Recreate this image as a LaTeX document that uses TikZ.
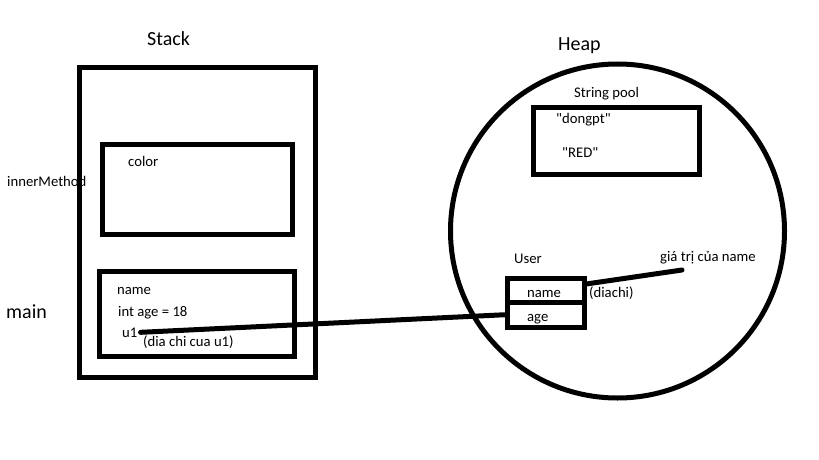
\documentclass[tikz,border=0pt]{standalone}
\usepackage{fontspec}
\setmainfont{Carlito}
\usetikzlibrary{positioning,calc}

\begin{document}
\begin{tikzpicture}[
        x=1pt, y=-1pt,
        box/.style={draw, line width=5pt, inner sep=0pt},
        field/.style={draw, line width=5pt, inner sep=0pt, minimum width=77pt, minimum height=24.5pt},
        heapbox/.style={draw, circle, line width=5pt, inner sep=0pt, minimum size=334pt},
        lbl/.style={font=\fontsize{14.7}{17}\selectfont, anchor=base west, inner sep=0pt},
        ttl/.style={font=\fontsize{20}{24}\selectfont, anchor=base west, inner sep=0pt},
        wire/.style={line width=5pt, line cap=round}
    ]
    \useasboundingbox (0,0) rectangle (819,460);

    % Stack
    \node[box, minimum width=236pt, minimum height=310pt] (stack) at (197.5,222.5) {};
    \node[ttl] (stacktitle) at (147,46) {Stack};

    % innerMethod frame
    \node[box, minimum width=190pt, minimum height=90pt] (inner) at (197.5,189.5) {};
    \node[lbl] (innerlbl) at (7,186) {innerMethod};
    \node[lbl] (color) at (128,166) {color};

    % main frame
    \node[box, minimum width=195pt, minimum height=85pt] (mainframe) at (197,314) {};
    \node[ttl] (mainlbl) at (6,318) {main};
    \node[lbl] (name) at (117,294) {name};
    \node[lbl] (age) at (118,316) {int age = 18};
    \node[lbl] (u1) at (122,337) {u1};
    \node[lbl] (u1addr) at (143,346) {(dia chi cua u1)};

    % Heap
    \node[heapbox] (heap) at (617.5,231) {};
    \node[ttl] (heaptitle) at (558,51) {Heap};

    % String pool
    \node[box, minimum width=166pt, minimum height=67.5pt] (pool) at (616,141) {};
    \node[lbl] (pooltitle) at (574,97) {String pool};
    \node[lbl] (dongpt) at (556,123) {\textquotedbl dongpt\textquotedbl};
    \node[lbl] (red) at (562,157) {\textquotedbl RED\textquotedbl};

    % User object
    \node[lbl] (usertitle) at (514,263) {User};
    \node[field] (namefield) at (545.5,290.25) {};
    \node[field] (agefield) at (545.5,314.75) {};
    \node[lbl] at (527,297) {name};
    \node[lbl] at (527,321) {age};
    \node[lbl] (diachi) at (589,297) {(diachi)};
    \node[lbl] (namevalue) at (660,261) {giá trị của name};
    \coordinate (nameend) at (682,270);

    % references
    \draw[wire] ([xshift=3pt]u1.east) -- (agefield.west);
    \draw[wire] ([xshift=-2pt,yshift=6pt]namefield.east) -- (nameend);

\end{tikzpicture}
\end{document}
